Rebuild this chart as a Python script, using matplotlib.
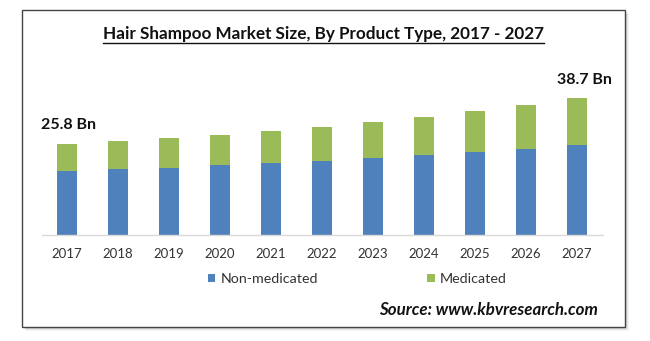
import matplotlib
matplotlib.use("Agg")
import matplotlib.pyplot as plt
from matplotlib.patches import Rectangle
import numpy as np

years = ["2017", "2018", "2019", "2020", "2021", "2022", "2023", "2024", "2025", "2026", "2027"]
non_medicated = [18.2, 18.8, 19.1, 19.7, 20.3, 20.9, 21.7, 22.7, 23.5, 24.4, 25.6]
medicated = [7.6, 7.9, 8.5, 8.7, 9.1, 9.6, 10.2, 10.7, 11.7, 12.5, 13.1]
series_names = ["Non-medicated", "Medicated"]
colors = ["#4F81BD", "#9BBB59"]
title = "Hair Shampoo Market Size, By Product Type, 2017 - 2027"
source = "Source: www.kbvresearch.com"
callouts = {0: "25.8 Bn", 10: "38.7 Bn"}

plt.rcParams['font.family'] = ['Lato', 'DejaVu Sans']

W, H = 650, 341
fig = plt.figure(figsize=(W / 100, H / 100), dpi=100)
fig.patch.set_facecolor("white")

def fx(px):
    return px / W

def fy(py):
    return 1 - py / H

# shadow and frame
for i, a in enumerate([0.10, 0.08, 0.06, 0.04]):
    off = 1 + i
    fig.patches.append(Rectangle((fx(22 + off), fy(327 + off)), fx(603), (327 - 10) / H,
                                 transform=fig.transFigure, facecolor=(0, 0, 0, a),
                                 edgecolor="none", zorder=0))
fig.patches.append(Rectangle((fx(22), fy(327)), fx(603), (327 - 10) / H,
                             transform=fig.transFigure, facecolor="white",
                             edgecolor="#444444", linewidth=1.0, zorder=1))

ax = fig.add_axes([fx(41.5), fy(235), fx(561), 176.4 / H])
ax.set_zorder(2)
ax.patch.set_alpha(0)
x = np.arange(len(years))
b1 = ax.bar(x, non_medicated, width=0.4, color=colors[0], label=series_names[0])
b2 = ax.bar(x, medicated, width=0.4, bottom=non_medicated, color=colors[1], label=series_names[1])
ax.set_xlim(-0.5, len(years) - 0.5)
ax.set_ylim(0, 50)
ax.set_yticks([])
for s in ["top", "right", "left"]:
    ax.spines[s].set_visible(False)
ax.spines["bottom"].set_color("#D9D9D9")
ax.spines["bottom"].set_linewidth(1.0)
ax.set_xticks(x)
ax.set_xticklabels(years, fontsize=9.5, color="#333333")
ax.tick_params(axis="x", length=0, pad=9)

totals = [a + b for a, b in zip(non_medicated, medicated)]
label_dx = {0: 1, 10: 5}
for i, txt in callouts.items():
    ax.annotate(txt, (x[i], totals[i]), xytext=(label_dx[i], 13.5), textcoords="offset points",
                ha="center", va="center", fontsize=11.5, fontweight="bold", color="#111111")

leg = fig.legend(handles=[b1, b2], labels=series_names, loc="center",
                 bbox_to_anchor=(fx(357), fy(279)), ncol=2, frameon=False,
                 fontsize=10.3, handlelength=0.55, handleheight=0.55, handletextpad=0.35,
                 columnspacing=7.6)
for t in leg.get_texts():
    t.set_color("#333333")

t = fig.text(fx(323.5), fy(34.5), title, ha="center", va="center", fontsize=12.3,
             fontweight="bold", color="#111111")
fig.text(fx(598), fy(310), source, ha="right", va="center", fontsize=12.2,
         fontweight="bold", fontstyle="italic", color="#111111")

fig.canvas.draw()
bb = t.get_window_extent(fig.canvas.get_renderer())
x0, x1 = bb.x0 / W, bb.x1 / W
yl = (bb.y0 - 0.5) / H
fig.add_artist(plt.Line2D([x0, x1], [yl, yl], transform=fig.transFigure, color="#111111", linewidth=1.0))

fig.savefig("out.png", dpi=100)
